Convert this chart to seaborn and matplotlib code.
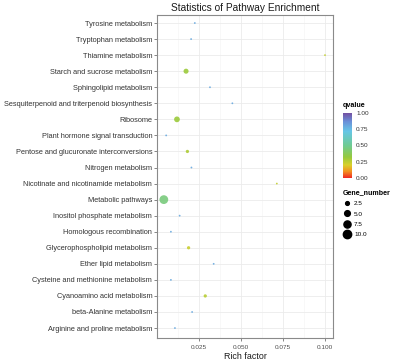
import numpy as np
import pandas as pd
import seaborn as sns
import matplotlib.pyplot as plt
from matplotlib.colors import LinearSegmentedColormap, Normalize
from matplotlib.cm import ScalarMappable
from matplotlib.lines import Line2D
from matplotlib.ticker import MultipleLocator

# pathways listed bottom -> top (alphabetical, as ggplot orders them)
pathways = [
    "Arginine and proline metabolism",
    "beta-Alanine metabolism",
    "Cyanoamino acid metabolism",
    "Cysteine and methionine metabolism",
    "Ether lipid metabolism",
    "Glycerophospholipid metabolism",
    "Homologous recombination",
    "Inositol phosphate metabolism",
    "Metabolic pathways",
    "Nicotinate and nicotinamide metabolism",
    "Nitrogen metabolism",
    "Pentose and glucuronate interconversions",
    "Plant hormone signal transduction",
    "Ribosome",
    "Sesquiterpenoid and triterpenoid biosynthesis",
    "Sphingolipid metabolism",
    "Starch and sucrose metabolism",
    "Thiamine metabolism",
    "Tryptophan metabolism",
    "Tyrosine metabolism",
]
rich_factor = [0.0109, 0.0211, 0.0289, 0.0085, 0.0339, 0.0190, 0.0085, 0.0137, 0.0043, 0.0714,
               0.0207, 0.0183, 0.0057, 0.0121, 0.0450, 0.0317, 0.0175, 0.1000, 0.0205, 0.0227]
gene_number = [1, 1, 2, 1, 1, 2, 1, 1, 11, 1,
               1, 2, 1, 5, 1, 1, 4, 1, 1, 1]
qvalue = [0.8, 0.8, 0.26, 0.8, 0.8, 0.23, 0.8, 0.8, 0.45, 0.24,
          0.8, 0.28, 0.8, 0.31, 0.8, 0.8, 0.31, 0.24, 0.8, 0.8]

size_breaks = [2.5, 5.0, 7.5, 10.0]
q_breaks = [0.0, 0.25, 0.5, 0.75, 1.0]

df = pd.DataFrame({"Pathway": pathways, "Rich factor": rich_factor,
                   "Gene_number": gene_number, "qvalue": qvalue})

cmap = LinearSegmentedColormap.from_list("qv", [
    (0.0, "#ee2a24"), (0.1, "#f3901f"), (0.2, "#d9d02a"), (0.32, "#95c93d"),
    (0.5, "#6fcb93"), (0.72, "#66c6e6"), (0.87, "#6a8fd8"), (1.0, "#7351a3")])
qnorm = Normalize(0, 1)

smin, smax = 1.7, 40
snorm = (1, 11)
def area(v):
    return smin + (v - snorm[0]) / (snorm[1] - snorm[0]) * (smax - smin)

plt.rcParams["font.family"] = ["Liberation Sans", "DejaVu Sans"]
fig = plt.figure(figsize=(3.94, 3.61), dpi=100)
ax = fig.add_axes([157 / 394, 1 - 338 / 361, 176 / 394, 323 / 361])

sns.scatterplot(data=df, x="Rich factor", y="Pathway", hue="qvalue", palette=cmap,
                hue_norm=qnorm, size="Gene_number", sizes=(smin, smax), size_norm=snorm,
                linewidth=0, alpha=0.9, legend=False, ax=ax, zorder=3)

ax.set_xlim(0.00025, 0.10475)
ax.set_ylim(-0.62, len(pathways) - 0.5)
ax.xaxis.set_major_locator(MultipleLocator(0.025))
ax.xaxis.set_minor_locator(MultipleLocator(0.0125))
ax.set_xticks([0.025, 0.05, 0.075, 0.1])
ax.set_xticklabels(["0.025", "0.050", "0.075", "0.100"])
ax.grid(True, which="major", color="#ebebeb", linewidth=0.6, zorder=0)
ax.grid(True, which="minor", axis="x", color="#f4f4f4", linewidth=0.4, zorder=0)
ax.set_axisbelow(True)
for s in ax.spines.values():
    s.set_color("#8a8a8a")
    s.set_linewidth(0.8)
ax.tick_params(axis="x", which="major", labelsize=4.6, length=2.2, width=0.5, color="#555555",
               labelcolor="#4d4d4d", pad=2.5)
ax.tick_params(axis="y", labelsize=5.3, length=2, width=0.5, color="#555555",
               labelcolor="#333333", pad=1.5)
ax.tick_params(which="minor", length=0)
ax.set_ylabel("")
ax.set_xlabel("Rich factor", fontsize=6.4, labelpad=1.5, color="#1a1a1a")
ax.set_title("Statistics of Pathway Enrichment", fontsize=7.3, pad=3, color="#1a1a1a")

# qvalue colourbar
cax = fig.add_axes([343 / 394, 1 - 178 / 361, 9 / 394, 65 / 361])
cb = fig.colorbar(ScalarMappable(norm=qnorm, cmap=cmap), cax=cax, ticks=q_breaks)
cb.outline.set_visible(False)
cb.set_ticklabels([f"{b:.2f}" for b in q_breaks])
cax.tick_params(labelsize=4.6, length=0, pad=3, labelcolor="#333333")
cax.set_title("qvalue", fontsize=5.1, fontweight="bold", loc="left", pad=4, x=-0.05)

# Gene_number size legend
handles = [Line2D([], [], linestyle="", marker="o", color="black",
                  markersize=np.sqrt(area(v))) for v in size_breaks]
fig.legend(handles, [str(v) for v in size_breaks], title="Gene_number",
           loc="upper left", bbox_to_anchor=(340 / 394, 1 - 186 / 361), frameon=False,
           fontsize=4.6, title_fontproperties={"size": 5.1, "weight": "bold"},
           handletextpad=0.5, labelspacing=0.75, borderpad=0, handlelength=1.2,
           alignment="left")

fig.savefig("out.png", dpi=100)
